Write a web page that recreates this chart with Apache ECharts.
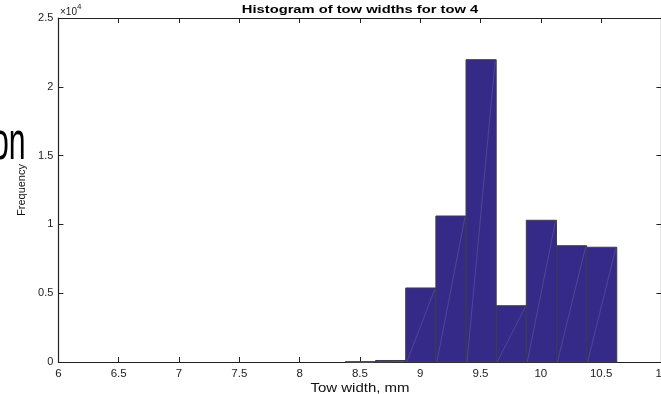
<!DOCTYPE html>
<html>
<head>
<meta charset="utf-8">
<script src="https://cdn.jsdelivr.net/npm/echarts@6/dist/echarts.min.js"></script>
<style>html,body{margin:0;padding:0;background:#fff;}#c{width:661px;height:394px;}</style>
</head>
<body>
<div id="c"></div>
<script>
// Data
var binStarts = [8.38, 8.63, 8.88, 9.13, 9.38, 9.63, 9.88, 10.13, 10.38];
var binWidth = 0.25;
var counts = [20, 110, 5380, 10610, 21970, 4090, 10300, 8450, 8340];
var xTicks = ['6','6.5','7','7.5','8','8.5','9','9.5','10','10.5','11'];
var yTicks = ['0','0.5','1','1.5','2','2.5'];
var titleText = 'Histogram of tow widths for tow 4';
var xName = 'Tow width, mm';
var yName = 'Frequency';

var chart = echarts.init(document.getElementById('c'));
var FONT = 'Liberation Sans, Arial, Helvetica, sans-serif';
var data = binStarts.map(function (s, i) { return [s, s + binWidth, counts[i]]; });

chart.setOption({
  animation: false,
  backgroundColor: '#fff',
  grid: { left: 58.4, top: 18, width: 603, height: 344, outerBoundsMode: 'none', containLabel: false },
  xAxis: [{
    type: 'value', min: 6, max: 11, interval: 0.5,
    axisLine: { onZero: false, lineStyle: { color: '#222', width: 1.2 } },
    axisTick: { inside: true, length: 5, lineStyle: { color: '#222' } },
    axisLabel: { fontFamily: FONT, fontSize: 11.5, color: '#222', margin: 6, hideOverlap: false,
      formatter: function (v) { var i = Math.round((v - 6) / 0.5); return xTicks[i] || ''; } },
    splitLine: { show: false }
  }, {
    type: 'value', min: 6, max: 11, interval: 0.5, position: 'top',
    axisLine: { onZero: false, lineStyle: { color: '#222', width: 1.2 } },
    axisTick: { inside: true, length: 5, lineStyle: { color: '#222' } },
    axisLabel: { show: false }, splitLine: { show: false }
  }],
  yAxis: [{
    type: 'value', min: 0, max: 25000, interval: 5000,
    name: yName, nameLocation: 'middle', nameGap: 30, nameRotate: 90,
    nameTextStyle: { fontFamily: FONT, fontSize: 11, color: '#111' },
    axisLine: { show: true, onZero: false, lineStyle: { color: '#222', width: 1.2 } },
    axisTick: { show: true, inside: true, length: 5, lineStyle: { color: '#222' } },
    axisLabel: { fontFamily: FONT, fontSize: 11, color: '#222', margin: 5,
      formatter: function (v) { return yTicks[Math.round(v / 5000)]; } },
    splitLine: { show: false }
  }, {
    type: 'value', min: 0, max: 25000, interval: 5000, position: 'right',
    axisLine: { show: true, onZero: false, lineStyle: { color: '#222', width: 1.2 } },
    axisTick: { show: true, inside: true, length: 5, lineStyle: { color: '#222' } },
    axisLabel: { show: false }, splitLine: { show: false }
  }],
  graphic: [{
    type: 'text', x: 360, y: 4, scaleX: 1.28,
    style: { text: titleText, fontFamily: FONT, fontSize: 11.5, fontWeight: 'bold', fill: '#000', align: 'center', verticalAlign: 'top' }
  }, {
    type: 'text', x: 360, y: 382, scaleX: 1.2,
    style: { text: xName, fontFamily: FONT, fontSize: 12.5, fill: '#111', align: 'center', verticalAlign: 'top' }
  }, {
    type: 'text', left: 60, top: 3,
    style: {
      text: '{a|\u00d710}{b|4}', fontFamily: FONT, fill: '#222',
      rich: { a: { fontSize: 10, fontFamily: FONT, fill: '#222', verticalAlign: 'bottom' },
              b: { fontSize: 8, fontFamily: FONT, fill: '#222', padding: [0, 0, 6, 0] } }
    }
  }, {
    type: 'text', x: -8, y: 171, scaleX: 0.56,
    style: { text: 'on', fontFamily: FONT, fontSize: 54, fill: '#000', verticalAlign: 'bottom' }
  }],
  series: [{
    type: 'custom',
    xAxisIndex: 0, yAxisIndex: 0,
    data: data,
    encode: { x: [0, 1], y: 2 },
    renderItem: function (params, api) {
      var p0 = api.coord([api.value(0), 0]);
      var p1 = api.coord([api.value(1), api.value(2)]);
      var x = p0[0], y = p1[1], w = p1[0] - p0[0], h = p0[1] - p1[1];
      return {
        type: 'group',
        children: [{
          type: 'rect',
          shape: { x: x, y: y, width: w, height: h },
          style: { fill: '#352a87', stroke: '#3c3c48', lineWidth: 1 }
        }, {
          type: 'line',
          shape: { x1: x + 1, y1: p0[1], x2: x + w - 1, y2: y + 1 },
          style: { stroke: 'rgba(255,255,255,0.22)', lineWidth: 0.6 }
        }]
      };
    }
  }]
});
</script>
</body>
</html>
